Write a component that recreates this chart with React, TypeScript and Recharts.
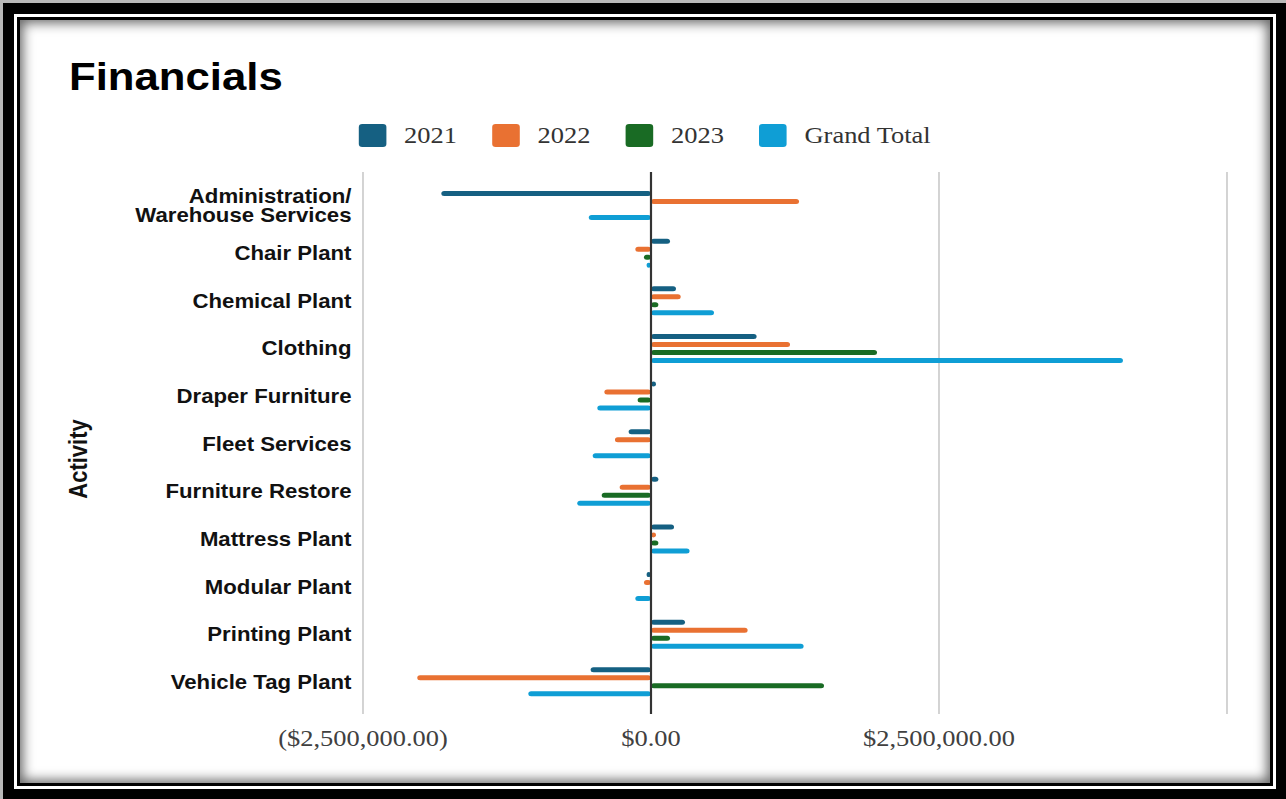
import React from 'react';
import { BarChart, Bar, XAxis, YAxis, CartesianGrid, ReferenceLine } from 'recharts';

// ---------- data ----------
const categories = [
  'Administration/Warehouse Services',
  'Chair Plant',
  'Chemical Plant',
  'Clothing',
  'Draper Furniture',
  'Fleet Services',
  'Furniture Restore',
  'Mattress Plant',
  'Modular Plant',
  'Printing Plant',
  'Vehicle Tag Plant',
];

const values2021 = [-1820000, 165000, 217000, 917000, 43000, -194000, 64000, 200000, -38000, 295000, -524000];
const values2022 = [1285000, -136000, 258000, 1207000, -405000, -313000, -272000, 43000, -61000, 839000, -2029000];
const values2023 = [0, -61000, 64000, 1962000, -116000, 0, -428000, 64000, -8000, 165000, 1502000];
const valuesTotal = [-540000, -38000, 547000, 4097000, -466000, -506000, -640000, 335000, -136000, 1325000, -1065000];

const seriesKeys = ['y2021', 'y2022', 'y2023', 'total'];
const seriesNames = ['2021', '2022', '2023', 'Grand Total'];
const seriesColors = ['#156082', '#E97132', '#196B24', '#0F9ED5'];

const xTickValues = [-2500000, 0, 2500000, 5000000];
const xTickLabels = ['($2,500,000.00)', '$0.00', '$2,500,000.00', ''];

const data = categories.map((name, i) => ({
  name,
  y2021: values2021[i],
  y2022: values2022[i],
  y2023: values2023[i],
  total: valuesTotal[i],
}));

// ---------- layout ----------
const SX = 1.15; // horizontal stretch of the whole picture
const W = 1286 / SX;
const PLOT_LEFT = 363 / SX;
const PLOT_RIGHT = 1227 / SX;
const PLOT_TOP = 172;
const PLOT_BOTTOM = 714;
const CHART_H = 780;
const X_AXIS_H = 40;
const Y_AXIS_W = 290;

const SANS = '"Liberation Sans", Arial, Helvetica, sans-serif';
const SERIF = '"Liberation Serif", "Times New Roman", serif';

const XTick = (props: any) => {
  const { x, y, payload } = props;
  const idx = xTickValues.indexOf(payload.value);
  const label = idx >= 0 ? xTickLabels[idx] : '';
  return (
    <text x={x} y={y + 30} textAnchor="middle" fontFamily={SERIF} fontSize={23} fill="#404040">
      {label}
    </text>
  );
};

const YTick = (props: any) => {
  const { x, y, payload } = props;
  const name: string = payload.value;
  const slash = name.indexOf('/');
  const common = {
    textAnchor: 'end' as const,
    fontFamily: SANS,
    fontSize: 19.3,
    fontWeight: 700,
    fill: '#111',
  };
  if (slash >= 0) {
    const l1 = name.slice(0, slash + 1);
    const l2 = name.slice(slash + 1);
    return (
      <text x={x} y={y} {...common}>
        <tspan x={x} dy={-10 + 6.7}>{l1}</tspan>
        <tspan x={x} dy={19.5}>{l2}</tspan>
      </text>
    );
  }
  return (
    <text x={x} y={y} dy={6.7} {...common}>
      {name}
    </text>
  );
};

const ActivityLabel = () => (
  <text
    x={76}
    y={459}
    transform={`rotate(-90, 76, 459)`}
    textAnchor="middle"
    fontFamily={SANS}
    fontSize={22}
    fontWeight={700}
    fill="#111"
  >
    Activity
  </text>
);

export default function App() {
  return (
    <div style={{ position: 'fixed', left: 0, top: 0, width: 1286, height: 799, background: '#b8b8b8', overflow: 'hidden' }}>
      {/* frame */}
      <div
        style={{
          position: 'absolute',
          left: 3,
          top: 3,
          width: 1283,
          height: 796,
          boxSizing: 'border-box',
          borderStyle: 'solid',
          borderColor: '#000',
          borderWidth: '11px 10px 10px 11px',
          padding: 3,
          background: '#fff',
        }}
      >
        <div
          style={{
            width: '100%',
            height: '100%',
            boxSizing: 'border-box',
            border: '3px solid #000',
            background: '#fff',
            boxShadow: 'inset 0 0 12px 3px rgba(0,0,0,0.6)',
          }}
        />
      </div>

      {/* stretched content */}
      <div
        style={{
          position: 'absolute',
          left: 0,
          top: 0,
          width: W,
          height: 799,
          transform: `scaleX(${SX})`,
          transformOrigin: '0 0',
        }}
      >
        <div
          style={{
            position: 'absolute',
            left: 60,
            top: 58,
            fontFamily: SANS,
            fontWeight: 700,
            fontSize: 38,
            lineHeight: '38px',
            color: '#000',
            whiteSpace: 'nowrap',
          }}
        >
          Financials
        </div>

        <div
          style={{
            position: 'absolute',
            left: 312.2,
            top: 124,
            height: 23,
            display: 'flex',
            alignItems: 'center',
            whiteSpace: 'nowrap',
          }}
        >
          {seriesNames.map((n, i) => (
            <div key={n} style={{ display: 'flex', alignItems: 'center', marginRight: 31 }}>
              <div style={{ width: 23.5, height: 23, background: seriesColors[i], borderRadius: 3, marginRight: 15.6 }} />
              <span style={{ fontFamily: SERIF, fontSize: 23, lineHeight: '23px', color: '#333' }}>{n}</span>
            </div>
          ))}
        </div>

        <div style={{ position: 'absolute', left: 0, top: 0 }}>
          <BarChart
            width={W}
            height={CHART_H}
            data={data}
            layout="vertical"
            barGap={3}
            margin={{
              top: PLOT_TOP,
              right: W - PLOT_RIGHT,
              left: PLOT_LEFT - Y_AXIS_W,
              bottom: CHART_H - PLOT_BOTTOM - X_AXIS_H,
            }}
          >
            <CartesianGrid horizontal={false} vertical stroke="#d0d0d0" strokeWidth={1.6} />
            <XAxis
              type="number"
              domain={[xTickValues[0], xTickValues[xTickValues.length - 1]]}
              ticks={xTickValues}
              interval={0}
              axisLine={false}
              tickLine={false}
              tickSize={0}
              height={X_AXIS_H}
              tick={<XTick />}
            />
            <YAxis
              type="category"
              dataKey="name"
              width={Y_AXIS_W}
              axisLine={false}
              tickLine={false}
              tickSize={0}
              tickMargin={10}
              interval={0}
              padding={{ top: 10, bottom: 8 }}
              tick={<YTick />}
              label={<ActivityLabel />}
            />
            {seriesKeys.map((k, i) => (
              <Bar
                key={k}
                dataKey={k}
                name={seriesNames[i]}
                fill={seriesColors[i]}
                barSize={5}
                radius={2.5}
                isAnimationActive={false}
              />
            ))}
            <ReferenceLine
              x={0}
              ifOverflow="visible"
              shape={(p: any) => (
                <line x1={p.x1} x2={p.x2} y1={PLOT_TOP} y2={PLOT_BOTTOM} stroke="#333" strokeWidth={1.9} />
              )}
            />
          </BarChart>
        </div>
      </div>
    </div>
  );
}
